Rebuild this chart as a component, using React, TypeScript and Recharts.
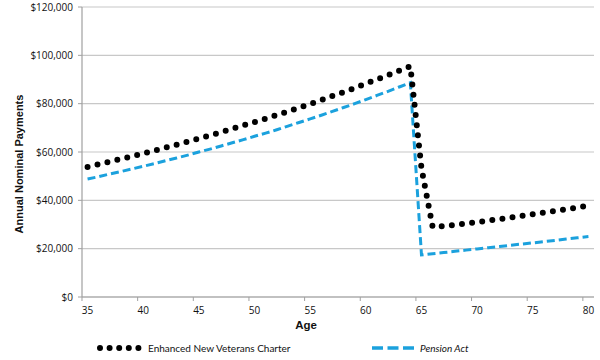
import React from 'react';
import { LineChart, Line, XAxis, YAxis, CartesianGrid, Legend } from 'recharts';

const ages = [
  35, 36, 37, 38, 39, 40, 41, 42, 43, 44, 45, 46, 47, 48, 49, 50, 51, 52, 53, 54, 55, 56, 57,
  58, 59, 60, 61, 62, 63, 64, 65, 66, 67, 68, 69, 70, 71, 72, 73, 74, 75, 76, 77, 78, 79, 80,
];

const charterPayments = [
  53800, 54900, 56000, 57100, 58200, 59400, 60600, 61800, 63000, 64300, 65600, 66900, 68200,
  69600, 71000, 72400, 73800, 75300, 76800, 78300, 79900, 81500, 83200, 84800, 86500, 88300,
  90000, 91800, 93700, 95500, 53300, 29000, 29300, 29800, 30400, 31000, 31600, 32200, 32900,
  33600, 34200, 34900, 35600, 36300, 37000, 37800,
];

const pensionPayments = [
  48800, 49800, 50900, 51900, 53000, 54100, 55200, 56400, 57500, 58700, 60000, 61200, 62500,
  63800, 65100, 66500, 67800, 69200, 70700, 72200, 73700, 75200, 76800, 78400, 80000, 81700,
  83400, 85100, 86900, 88700, 17400, 17900, 18400, 18900, 19400, 19900, 20400, 20900, 21400,
  21900, 22400, 22900, 23400, 24000, 24500, 25000,
];

const xTicks = [35, 40, 45, 50, 55, 60, 65, 70, 75, 80];
const yTicks = [0, 20000, 40000, 60000, 80000, 100000, 120000];
const seriesNames = ['Enhanced New Veterans Charter', 'Pension Act'];
const xTitle = 'Age';
const yTitle = 'Annual Nominal Payments';

const data = ages.map((age, i) => ({
  age,
  charter: charterPayments[i],
  pension: pensionPayments[i],
}));

const BLUE = '#1ba1dd';
const AXIS = '#a0a0a0';
const FONT = '"Open Sans", sans-serif';
const LEGEND_FONT = 'Lato, "Open Sans", sans-serif';

const XTick = (props: any) => {
  const { x, y, payload } = props;
  return (
    <g>
      <line x1={x - 5.57} x2={x - 5.57} y1={y} y2={y + 4} stroke={AXIS} strokeWidth={1} />
      <text x={x} y={y + 17} textAnchor="middle" fontFamily={FONT} fontSize={10} fill="#111">
        {payload.value}
      </text>
    </g>
  );
};

const formatDollar = (v: number) => '$' + v.toLocaleString('en-US');

const renderLegend = () => (
  <svg width={600} height={20} style={{ display: 'block' }}>
    <line
      x1={100}
      x2={138.5}
      y1={10}
      y2={10}
      stroke="#000"
      strokeWidth={6}
      strokeDasharray="0 9.6"
      strokeLinecap="round"
    />
    <text x={148} y={13.5} fontFamily={LEGEND_FONT} fontSize={10} fill="#111">
      {seriesNames[0]}
    </text>
    <line
      x1={372}
      x2={414}
      y1={10}
      y2={10}
      stroke={BLUE}
      strokeWidth={3.5}
      strokeDasharray="11 4.5"
    />
    <text x={420} y={13.5} fontFamily={LEGEND_FONT} fontSize={10} fontStyle="italic" fill="#111">
      {seriesNames[1]}
    </text>
  </svg>
);

export default function App() {
  return (
    <div style={{ position: 'absolute', left: 0, top: 0, width: 600, height: 360, background: '#fff' }}>
      <LineChart
        width={600}
        height={360}
        data={data}
        margin={{ top: 7, right: 6, bottom: 23, left: 0 }}
      >
        <CartesianGrid vertical={false} stroke="#c8c8c8" strokeWidth={1.2} />
        <XAxis
          dataKey="age"
          type="number"
          domain={[34.5, 80.5]}
          ticks={xTicks}
          interval={0}
          height={40}
          tickSize={0}
          tickMargin={0}
          tickLine={false}
          axisLine={{ stroke: AXIS, strokeWidth: 1.2 }}
          tick={<XTick />}
          label={{
            content: (p: any) => {
              const vb = p.viewBox;
              return (
                <text
                  x={vb.x + vb.width / 2 - 32}
                  y={vb.y + 32}
                  textAnchor="middle"
                  fontFamily='"Liberation Sans", Arial, sans-serif'
                  fontWeight="bold"
                  fontSize={11.5}
                  fill="#111"
                >
                  {xTitle}
                </text>
              );
            },
          }}
        />
        <YAxis
          type="number"
          domain={[0, 120000]}
          ticks={yTicks}
          interval={0}
          width={82}
          tickSize={4}
          tickMargin={5}
          tickLine={{ stroke: AXIS }}
          axisLine={{ stroke: AXIS, strokeWidth: 1.2 }}
          tickFormatter={formatDollar}
          tick={{ fontFamily: FONT, fontSize: 10, fill: '#111' }}
          label={{
            content: (p: any) => {
              const vb = p.viewBox;
              const cx = vb.x + 19;
              const cy = vb.y + vb.height / 2 + 12;
              return (
                <text
                  x={cx}
                  y={cy}
                  transform={`rotate(-90 ${cx} ${cy})`}
                  textAnchor="middle"
                  dominantBaseline="central"
                  fontFamily='"Liberation Sans", Arial, sans-serif'
                  fontWeight="bold"
                  fontSize={11}
                  fill="#111"
                >
                  {yTitle}
                </text>
              );
            },
          }}
        />
        <Legend
          layout="horizontal"
          verticalAlign="middle"
          align="center"
          content={renderLegend}
          wrapperStyle={{ top: 338, left: 0, width: 600, height: 20 }}
        />
        <Line
          type="linear"
          dataKey="pension"
          name={seriesNames[1]}
          stroke={BLUE}
          strokeWidth={3}
          strokeDasharray="8 4"
          dot={false}
          activeDot={false}
          isAnimationActive={false}
        />
        <Line
          type="linear"
          dataKey="charter"
          name={seriesNames[0]}
          stroke="#000"
          strokeWidth={6}
          strokeDasharray="0 10.2"
          strokeLinecap="round"
          dot={false}
          activeDot={false}
          isAnimationActive={false}
        />
      </LineChart>
    </div>
  );
}
